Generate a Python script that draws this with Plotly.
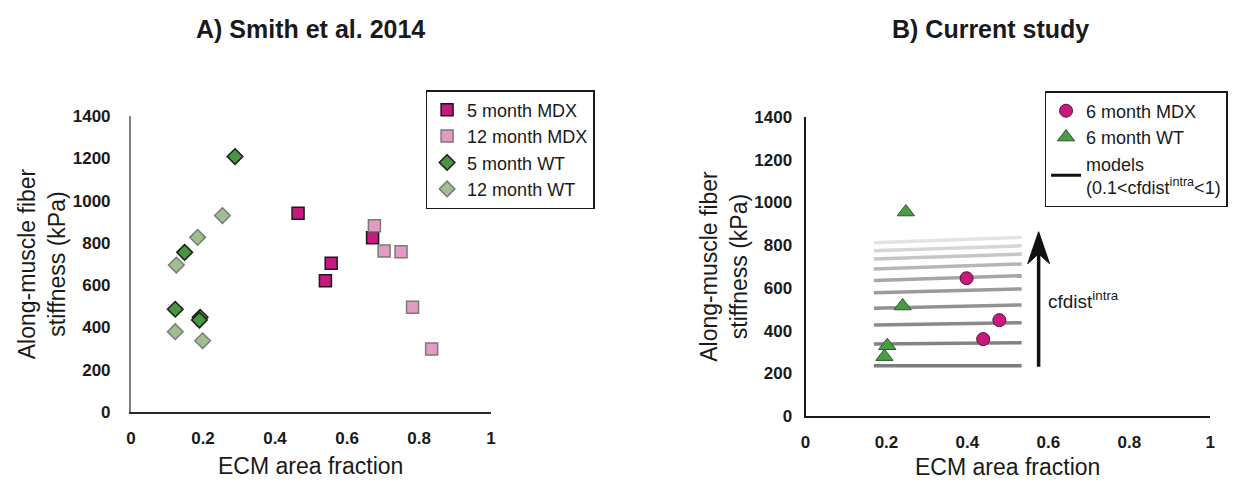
import plotly.graph_objects as go

# ---- Panel A: Smith et al. 2014 ----
mdx5_x = [0.464, 0.556, 0.540, 0.671]
mdx5_y = [940, 703, 621, 824]
mdx12_x = [0.676, 0.703, 0.750, 0.782, 0.835]
mdx12_y = [881, 761, 758, 495, 298]
wt5_x = [0.289, 0.149, 0.123, 0.192, 0.190]
wt5_y = [1208, 755, 486, 448, 435]
wt12_x = [0.254, 0.185, 0.126, 0.123, 0.199]
wt12_y = [929, 826, 695, 380, 337]

# ---- Panel B: current study ----
mdx6_x = [0.398, 0.479, 0.439]
mdx6_y = [645, 449, 360]
wt6_x = [0.248, 0.240, 0.202, 0.195]
wt6_y = [955, 515, 329, 278]

# model curves (0.1 < cfdist_intra < 1), bottom to top
model_x = [0.169, 0.534]
model_y_start = [235, 337, 426, 504, 577, 635, 688, 735, 774, 811]
model_y_end = [235, 343, 437, 520, 595, 657, 712, 758, 797, 837]
model_colors = ["#7d7d7d", "#838383", "#8a8a8a", "#929292", "#9b9b9b",
                "#a6a6a6", "#b6b6b6", "#c6c6c6", "#d6d6d6", "#e3e3e3"]

# direction of increasing cfdist_intra
arrow_x = 0.576
arrow_y = [231, 863]

FONT = "Liberation Sans, Arial, sans-serif"
TXT = "#1a1a1a"
W, H = 1243, 482

# plot areas in pixels
A_X = (127, 490)
A_Y = (116, 412)
B_X = (807, 1215)
B_Y = (117, 416)

fig = go.Figure()

dark_edge = dict(color="#1a1a1a", width=1.5)
light_edge = dict(color="#7a7a7a", width=1.5)

fig.add_trace(go.Scatter(x=mdx5_x, y=mdx5_y, mode="markers", name="5 month MDX",
                         marker=dict(symbol="square", size=12, color="#c8197f", line=dark_edge),
                         xaxis="x", yaxis="y", legend="legend"))
fig.add_trace(go.Scatter(x=mdx12_x, y=mdx12_y, mode="markers", name="12 month MDX",
                         marker=dict(symbol="square", size=12, color="#e59bc1", line=light_edge),
                         xaxis="x", yaxis="y", legend="legend"))
fig.add_trace(go.Scatter(x=wt5_x, y=wt5_y, mode="markers", name="5 month WT",
                         marker=dict(symbol="diamond", size=12, color="#479640", line=dark_edge),
                         xaxis="x", yaxis="y", legend="legend"))
fig.add_trace(go.Scatter(x=wt12_x, y=wt12_y, mode="markers", name="12 month WT",
                         marker=dict(symbol="diamond", size=12, color="#9fc08d", line=light_edge),
                         xaxis="x", yaxis="y", legend="legend"))

for ys, ye, c in zip(model_y_start, model_y_end, model_colors):
    fig.add_trace(go.Scatter(x=model_x, y=[ys, ye], mode="lines", showlegend=False,
                             line=dict(color=c, width=3.5), hoverinfo="skip",
                             xaxis="x2", yaxis="y2"))

fig.add_trace(go.Scatter(x=mdx6_x, y=mdx6_y, mode="markers", name="6 month MDX",
                         marker=dict(symbol="circle", size=13, color="#c8197f",
                                     line=dict(color="#5a1038", width=1)),
                         xaxis="x2", yaxis="y2", legend="legend2"))
fig.add_trace(go.Scatter(x=wt6_x, y=wt6_y, mode="markers", name="6 month WT",
                         marker=dict(symbol="triangle-up", size=15, color="#4b9a44",
                                     line=dict(color="#2b5a27", width=1)),
                         xaxis="x2", yaxis="y2", legend="legend2"))
fig.add_trace(go.Scatter(x=[None], y=[None], mode="lines",
                         name="models<br>(0.1&lt;cfdist<sup>intra</sup>&lt;1)",
                         line=dict(color="#111111", width=3),
                         xaxis="x2", yaxis="y2", legend="legend2"))

tickfont = dict(family=FONT, size=17, color=TXT, weight="bold")


def ytitle(standoff):
    return dict(text="Along-muscle fiber<br>stiffness (kPa)", standoff=standoff,
                font=dict(family=FONT, size=23, color=TXT))


axis_common = dict(range=[0, 1], tickvals=[0, 0.2, 0.4, 0.6, 0.8, 1],
                   ticktext=["0", "0.2", "0.4", "0.6", "0.8", "1"],
                   showgrid=False, zeroline=False, showline=True, ticks="",
                   tickfont=tickfont, ticklabelstandoff=10, fixedrange=True)
yaxis_common = dict(range=[0, 1400], tickvals=list(range(0, 1401, 200)),
                    showgrid=False, zeroline=False, showline=True, ticks="",
                    tickfont=tickfont, fixedrange=True, automargin=False)

legend_common = dict(xanchor="left", yanchor="top", bordercolor="#1a1a1a", borderwidth=1.5,
                     bgcolor="white", font=dict(family=FONT, size=18, color=TXT),
                     tracegroupgap=0, itemwidth=30)

fig.update_layout(
    width=W, height=H,
    margin=dict(l=0, r=0, t=0, b=0),
    paper_bgcolor="white", plot_bgcolor="white",
    font=dict(family=FONT, color=TXT),
    xaxis=dict(domain=[A_X[0] / W, A_X[1] / W], anchor="y", linecolor="#2a2a2a", linewidth=2,
               **axis_common),
    yaxis=dict(domain=[1 - A_Y[1] / H, 1 - A_Y[0] / H], anchor="x", linecolor="#808080", linewidth=2,
               ticklabelstandoff=15, title=ytitle(1), **yaxis_common),
    xaxis2=dict(domain=[B_X[0] / W, B_X[1] / W], anchor="y2", linecolor="#1a1a1a", linewidth=2,
                **axis_common),
    yaxis2=dict(domain=[1 - B_Y[1] / H, 1 - B_Y[0] / H], anchor="x2", linecolor="#1a1a1a", linewidth=2,
                ticklabelstandoff=8, title=ytitle(0), **yaxis_common),
    legend=dict(x=424 / W, y=1 - 90 / H, **legend_common),
    legend2=dict(x=1048 / W, y=1 - 91 / H, **legend_common),
    showlegend=True,
)


def paper_text(text, px, py, size, bold=False):
    if bold:
        text = "<b>" + text + "</b>"
    return dict(text=text, x=px / W, y=1 - py / H, xref="paper", yref="paper",
                showarrow=False, xanchor="center", yanchor="middle",
                font=dict(size=size, family=FONT, color=TXT))


annotations = [
    paper_text("A) Smith et al. 2014", 308, 29, 25, bold=True),
    paper_text("B) Current study", 993, 29, 25, bold=True),
    paper_text("ECM area fraction", 308, 466, 23),
    paper_text("ECM area fraction", 1011, 467, 23),
    dict(text="cfdist<sup>intra</sup>", x=arrow_x + 0.018, y=543, xref="x2", yref="y2",
         showarrow=False, xanchor="left", yanchor="middle",
         font=dict(size=19, family=FONT, color=TXT)),
]
fig.update_layout(annotations=annotations)

# arrow: shaft plus swept head, sized in pixels and converted to panel-B data units
x_per_px = 1.0 / (B_X[1] - B_X[0])
y_per_px = 1400.0 / (B_Y[1] - B_Y[0])
head_half = 11 * x_per_px
head_len = 32 * y_per_px
head_notch = 22 * y_per_px
tip = arrow_y[1]
shapes = [
    dict(type="line", xref="x2", yref="y2", x0=arrow_x, x1=arrow_x,
         y0=arrow_y[0], y1=tip - head_notch, line=dict(color="#111111", width=3.5)),
    dict(type="path", xref="x2", yref="y2",
         path=(f"M {arrow_x} {tip} L {arrow_x + head_half} {tip - head_len} "
               f"L {arrow_x} {tip - head_notch} L {arrow_x - head_half} {tip - head_len} Z"),
         fillcolor="#111111", line=dict(color="#111111", width=1)),
]
fig.update_layout(shapes=shapes)

fig.write_html("out.html")
